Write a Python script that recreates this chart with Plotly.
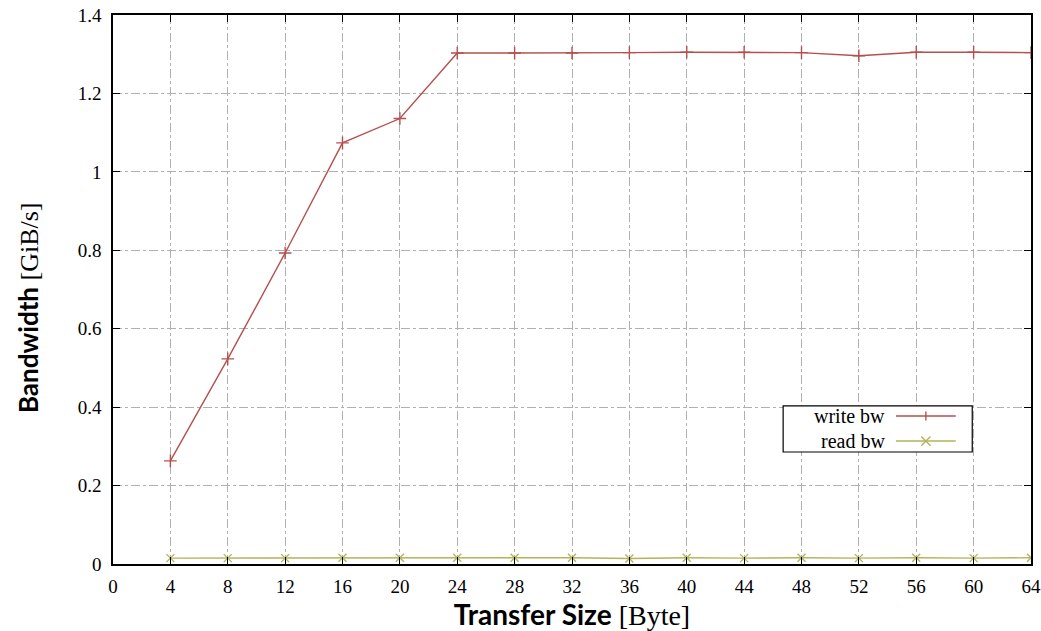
import plotly.graph_objects as go

transfer_size = [4, 8, 12, 16, 20, 24, 28, 32, 36, 40, 44, 48, 52, 56, 60, 64]
write_bw = [0.263, 0.523, 0.793, 1.074, 1.136, 1.303, 1.303, 1.303, 1.304, 1.305,
            1.305, 1.304, 1.296, 1.305, 1.305, 1.304]
read_bw = [0.015, 0.015, 0.015, 0.016, 0.016, 0.016, 0.016, 0.016, 0.014, 0.016,
           0.015, 0.016, 0.015, 0.016, 0.015, 0.016]
x_ticks = list(range(0, 65, 4))
y_ticks = [0, 0.2, 0.4, 0.6, 0.8, 1, 1.2, 1.4]
y_tick_labels = ["0", "0.2", "0.4", "0.6", "0.8", "1", "1.2", "1.4"]
series_names = ["write bw", "read bw"]

WRITE_COLOR = "#b5504e"
READ_COLOR = "#b3b35a"
SERIF = "Liberation Serif, DejaVu Serif, serif"
SANS = "Lato, Open Sans, sans-serif"

fig = go.Figure()
fig.add_trace(go.Scatter(
    x=transfer_size, y=write_bw, name=series_names[0], mode="lines+markers",
    line=dict(color=WRITE_COLOR, width=1.4),
    marker=dict(symbol="cross-thin", size=9, line=dict(color=WRITE_COLOR, width=1.4)),
    showlegend=False,
))
fig.add_trace(go.Scatter(
    x=transfer_size, y=read_bw, name=series_names[1], mode="lines+markers",
    line=dict(color=READ_COLOR, width=1.4),
    marker=dict(symbol="x-thin", size=8, line=dict(color=READ_COLOR, width=1.4)),
    showlegend=False,
))

axis_common = dict(
    showline=True, linecolor="black", linewidth=1.5, mirror="ticks",
    ticks="inside", ticklen=7, tickcolor="black", tickwidth=1,
    showgrid=True, gridcolor="#b0b0b0", gridwidth=1, griddash="dashdot",
    zeroline=False, tickfont=dict(family=SERIF, size=19, color="black"),
    automargin=False,
)

fig.update_xaxes(
    range=[0, 64], tickvals=x_ticks, ticktext=[str(v) for v in x_ticks],
    ticklabelstandoff=4,
    title=dict(
        text=f"<span style='font-family:{SANS};font-weight:bold'>Transfer Size</span> [Byte]",
        font=dict(family=SERIF, size=28, color="black"), standoff=6),
    **axis_common,
)
fig.update_yaxes(
    range=[0, 1.4], tickvals=y_ticks, ticktext=y_tick_labels,
    ticklabelstandoff=6,
    **axis_common,
)

annotations = [dict(
    text=f"<span style='font-family:{SANS};font-weight:bold'>Bandwidth</span> [GiB/s]",
    xref="paper", yref="paper", x=-0.0926, y=0.468, textangle=-90,
    xanchor="center", yanchor="middle", showarrow=False,
    font=dict(family=SERIF, size=26, color="black"))]

# custom legend (text on the left, line sample on the right, as in the reference)
box_x0, box_x1, box_y0, box_y1 = 0.730, 0.936, 0.204, 0.288
row_y = [0.2696, 0.2240]
colors = [WRITE_COLOR, READ_COLOR]
shapes = [dict(type="rect", xref="paper", yref="paper", x0=box_x0, x1=box_x1,
               y0=box_y0, y1=box_y1, line=dict(color="black", width=1.2),
               fillcolor="white", layer="above")]
mx, dx, dy = 0.8855, 0.005, 0.0084
for i, (name, c, yy) in enumerate(zip(series_names, colors, row_y)):
    annotations.append(dict(text=name, xref="paper", yref="paper", x=0.843, y=yy,
                            xanchor="right", yanchor="middle", showarrow=False,
                            font=dict(family=SERIF, size=20, color="black")))
    shapes.append(dict(type="line", xref="paper", yref="paper", x0=0.853, x1=0.918,
                       y0=yy, y1=yy, line=dict(color=c, width=1.4), layer="above"))
    if i == 0:
        shapes.append(dict(type="line", xref="paper", yref="paper", x0=mx, x1=mx,
                           y0=yy - dy, y1=yy + dy, line=dict(color=c, width=1.4), layer="above"))
    else:
        shapes.append(dict(type="line", xref="paper", yref="paper", x0=mx - dx, x1=mx + dx,
                           y0=yy - dy, y1=yy + dy, line=dict(color=c, width=1.4), layer="above"))
        shapes.append(dict(type="line", xref="paper", yref="paper", x0=mx - dx, x1=mx + dx,
                           y0=yy + dy, y1=yy - dy, line=dict(color=c, width=1.4), layer="above"))

fig.update_layout(
    width=1041, height=631,
    margin=dict(l=113, r=10, t=15, b=67),
    plot_bgcolor="white", paper_bgcolor="white",
    showlegend=False,
    shapes=shapes,
    annotations=annotations,
)

fig.write_html("out.html", config={"displayModeBar": False},
               post_script="document.body.style.margin='0';")
